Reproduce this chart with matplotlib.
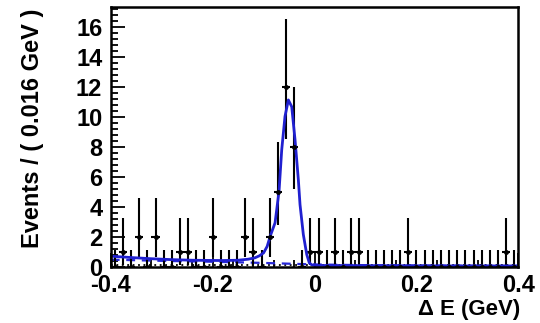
import numpy as np
import matplotlib
matplotlib.use("Agg")
import matplotlib.pyplot as plt
from matplotlib.ticker import MultipleLocator

plt.rcParams['font.family'] = ['Liberation Sans', 'DejaVu Sans']
plt.rcParams['font.weight'] = 'bold'

# histogram: 50 bins of 0.016 GeV from -0.4 to 0.4
bin_lo = -0.4
bin_width = 0.016
counts = [0, 1, 0, 2, 0, 2, 0, 0, 1, 1,
          0, 0, 2, 0, 0, 0, 2, 1, 0, 2,
          5, 12, 8, 0, 1, 1, 0, 1, 0, 1,
          1, 0, 0, 0, 0, 0, 1, 0, 0, 0,
          0, 0, 0, 0, 0, 0, 0, 0, 1, 0]

# Poisson (Garwood) error bars as drawn in the picture, by count
err_low = {0: 0.0, 1: 0.83, 2: 1.29, 5: 2.16, 8: 2.76, 12: 3.42}
err_high = {0: 1.15, 1: 2.30, 2: 2.64, 5: 3.38, 8: 3.98, 12: 4.57}

# fitted total pdf (solid blue)
fit_x = [-0.400, -0.360, -0.320, -0.280, -0.240, -0.215, -0.180, -0.150, -0.130,
         -0.117, -0.108, -0.100, -0.093, -0.087, -0.0775, -0.0697, -0.0644, -0.058,
         -0.0514, -0.0448, -0.0383, -0.0318, -0.0285, -0.022, -0.0153, -0.0102,
         -0.005, 0.000, 0.100, 0.200, 0.300, 0.400]
fit_y = [0.75, 0.66, 0.58, 0.52, 0.48, 0.47, 0.46, 0.48, 0.55,
         0.64, 0.78, 0.97, 1.4, 2.08, 2.97, 5.07, 7.84, 10.05,
         11.15, 10.7, 8.5, 5.84, 4.18, 2.19, 0.86, 0.3,
         0.16, 0.13, 0.12, 0.11, 0.10, 0.10]

# background component (dashed blue)
bkg_x = [-0.40, -0.30, -0.20, -0.10, 0.00, 0.10, 0.20, 0.30, 0.40]
bkg_y = [0.52, 0.44, 0.38, 0.30, 0.20, 0.15, 0.12, 0.11, 0.10]

# peaking component (dotted black)
peak_x = [-0.40, -0.20, 0.00, 0.20, 0.40]
peak_y = [0.14, 0.14, 0.14, 0.14, 0.14]

centers = bin_lo + bin_width * (np.arange(len(counts)) + 0.5)
yerr = [[err_low[c] for c in counts], [err_high[c] for c in counts]]

fig = plt.figure(figsize=(5.4, 3.23), dpi=100)
ax = fig.add_axes([0.205, 0.172, 0.755, 0.806])

ax.plot(peak_x, peak_y, color='black', lw=1.3, ls=(0, (1, 2)))
ax.plot(bkg_x, bkg_y, color='#2828d8', lw=1.6, ls=(0, (4, 3)))
ax.errorbar(centers, counts, xerr=bin_width / 2, yerr=yerr, fmt='o', ms=2.5,
            color='black', ecolor='black', elinewidth=1.5, capsize=0)
ax.plot(fit_x, fit_y, color='#2020d0', lw=2.0)

ax.set_xlim(-0.4, 0.4)
ax.set_ylim(0, 17.33)
ax.xaxis.set_minor_locator(MultipleLocator(0.04))
ax.yaxis.set_major_locator(MultipleLocator(2))
ax.yaxis.set_minor_locator(MultipleLocator(0.4))
ax.set_xticks([-0.4, -0.2, 0, 0.2, 0.4])
ax.set_xticklabels(['-0.4', '-0.2', '0', '0.2', '0.4'])
ax.tick_params(which='both', direction='in', top=False, right=False,
               labelsize=17, width=1.3)
ax.tick_params(axis='y', which='major', length=10, pad=6)
ax.tick_params(axis='y', which='minor', length=5)
ax.tick_params(axis='x', which='major', length=10, pad=5)
ax.tick_params(axis='x', which='minor', length=5)
for s in ax.spines.values():
    s.set_linewidth(1.8)

fig.text(33 / 540, 1 - 9 / 323, 'Events / ( 0.016 GeV )', rotation=90,
         ha='center', va='top', fontsize=17, fontweight='bold')
fig.text(520 / 540, 1 - 299 / 323, '\u0394 E (GeV)', ha='right', va='top',
         fontsize=16, fontweight='bold')

fig.savefig('out.png', dpi=100)
